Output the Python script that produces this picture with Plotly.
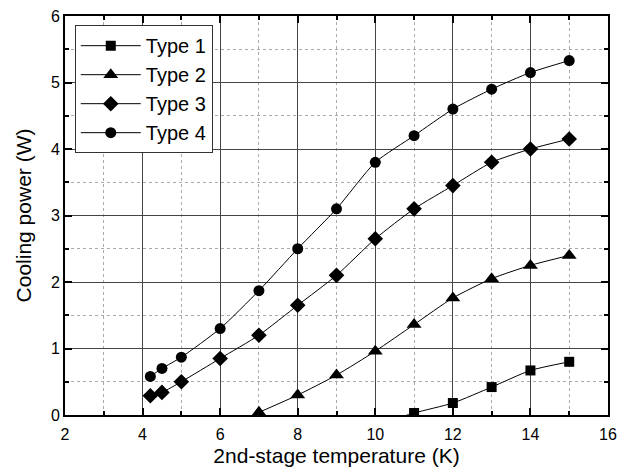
import plotly.graph_objects as go

x_low = [4.2, 4.5, 5, 6, 7, 8, 9, 10, 11, 12, 13, 14, 15]
type4_y = [0.58, 0.70, 0.87, 1.30, 1.87, 2.50, 3.10, 3.80, 4.20, 4.60, 4.90, 5.15, 5.33]
type3_y = [0.29, 0.34, 0.50, 0.85, 1.20, 1.65, 2.10, 2.65, 3.10, 3.45, 3.80, 4.00, 4.15]
type2_x = [7, 8, 9, 10, 11, 12, 13, 14, 15]
type2_y = [0.04, 0.30, 0.60, 0.96, 1.36, 1.76, 2.05, 2.25, 2.40]
type1_x = [10, 11, 12, 13, 14, 15]
type1_y = [-0.15, 0.03, 0.18, 0.42, 0.67, 0.80]

series = [
    ("Type 1", type1_x, type1_y, "square", 10),
    ("Type 2", type2_x, type2_y, "triangle-up", 13),
    ("Type 3", x_low, type3_y, "diamond", 12),
    ("Type 4", x_low, type4_y, "circle", 11),
]

fig = go.Figure()
for name, xs, ys, sym, sz in series:
    fig.add_trace(go.Scatter(
        x=xs, y=ys, name=name,
        mode="lines+markers",
        line=dict(color="black", width=1, shape="spline", smoothing=0.6),
        marker=dict(symbol=sym, size=sz, color="black"),
        cliponaxis=True,
    ))

axis_common = dict(
    showline=True, linecolor="black", linewidth=2, mirror="allticks",
    ticks="inside", ticklen=7, tickcolor="black", tickwidth=1.5,
    showgrid=True, gridcolor="#444444", gridwidth=1,
    zeroline=False, automargin=False,
    tickfont=dict(family="Liberation Sans, Arial", size=16, color="black"),
)

fig.update_layout(
    width=630, height=472,
    margin=dict(l=65, r=22, t=16, b=57),
    paper_bgcolor="white", plot_bgcolor="white",
    font=dict(family="Liberation Sans, Arial", color="black"),
    xaxis=dict(
        range=[2, 16], dtick=2, tick0=2, ticklabelstandoff=4,
        title=dict(text="2nd-stage temperature (K)", font=dict(size=21), standoff=6),
        minor=dict(dtick=1, showgrid=True, griddash="dot", gridcolor="#aaaaaa",
                   ticks="inside", ticklen=4, tickcolor="black"),
        **axis_common,
    ),
    yaxis=dict(
        range=[0, 6], dtick=1, tick0=0,
        title=dict(text="Cooling power (W)", font=dict(size=21), standoff=14),
        minor=dict(dtick=0.5, showgrid=True, griddash="dot", gridcolor="#aaaaaa",
                   ticks="inside", ticklen=4, tickcolor="black"),
        **axis_common,
    ),
    legend=dict(
        x=0.018, y=0.977, xanchor="left", yanchor="top",
        bgcolor="white", bordercolor="#333333", borderwidth=1,
        font=dict(size=20),
        itemwidth=60, tracegroupgap=0,
    ),
    showlegend=True,
)

fig.write_html("out.html", config={"displayModeBar": False},
               post_script="document.body.style.margin='0';")
